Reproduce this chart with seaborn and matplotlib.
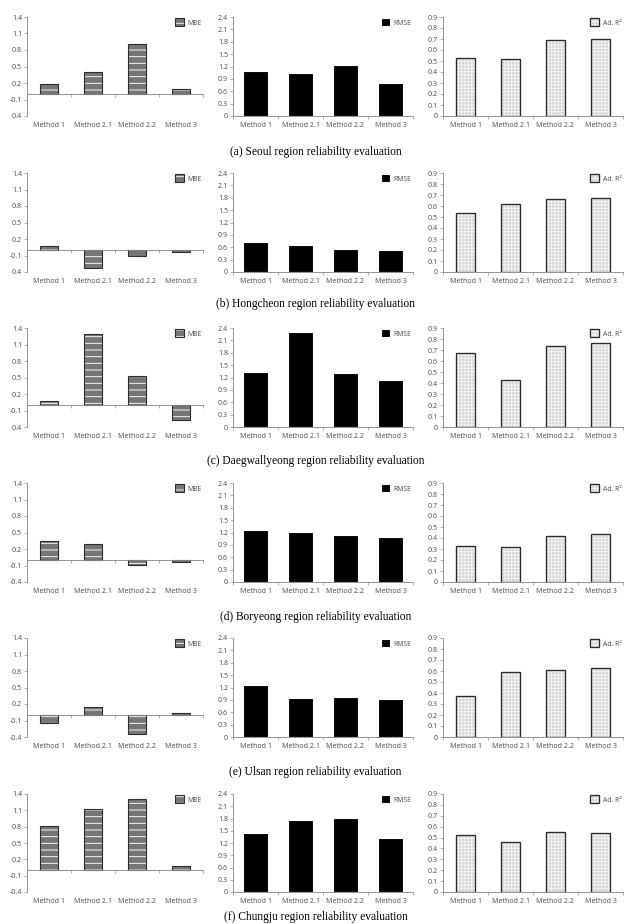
import matplotlib
matplotlib.use("Agg")
import matplotlib.pyplot as plt
import seaborn as sns
import pandas as pd

# ---------------- data ----------------
methods = ["Method 1", "Method 2.1", "Method 2.2", "Method 3"]

captions = [
    "(a) Seoul region reliability evaluation",
    "(b) Hongcheon region reliability evaluation",
    "(c) Daegwallyeong region reliability evaluation",
    "(d) Boryeong region reliability evaluation",
    "(e) Ulsan region reliability evaluation",
    "(f) Chungju region reliability evaluation",
]

mbe_a = [0.18, 0.40, 0.91, 0.09]
mbe_b = [0.08, -0.33, -0.11, -0.03]
mbe_c = [0.07, 1.29, 0.53, -0.28]
mbe_d = [0.35, 0.29, -0.085, -0.03]
mbe_e = [-0.15, 0.15, -0.35, 0.03]
mbe_f = [0.82, 1.13, 1.30, 0.07]

rmse_a = [1.08, 1.05, 1.23, 0.79]
rmse_b = [0.73, 0.65, 0.55, 0.53]
rmse_c = [1.33, 2.30, 1.32, 1.15]
rmse_d = [1.27, 1.22, 1.13, 1.08]
rmse_e = [1.25, 0.94, 0.98, 0.92]
rmse_f = [1.45, 1.76, 1.81, 1.32]

r2_a = [0.525, 0.52, 0.69, 0.70]
r2_b = [0.54, 0.62, 0.66, 0.67]
r2_c = [0.67, 0.43, 0.74, 0.76]
r2_d = [0.33, 0.32, 0.42, 0.44]
r2_e = [0.375, 0.59, 0.605, 0.63]
r2_f = [0.52, 0.455, 0.55, 0.54]

mbe_ticks = [1.4, 1.1, 0.8, 0.5, 0.2, -0.1, -0.4]
mbe_labels_abc = ["1.4", "1.1", "0.8", "0.5", "0.2", "-0.1", "0.4"]
mbe_labels_def = ["1.4", "1.1", "0.8", "0.5", "0.2", "-0.1", "-0.4"]
rmse_ticks = [0, 0.3, 0.6, 0.9, 1.2, 1.5, 1.8, 2.1, 2.4]
rmse_labels = ["0", "0.3", "0.6", "0.9", "1.2", "1.5", "1.8", "2.1", "2.4"]
r2_ticks = [0, 0.1, 0.2, 0.3, 0.4, 0.5, 0.6, 0.7, 0.8, 0.9]
r2_labels = ["0", "0.1", "0.2", "0.3", "0.4", "0.5", "0.6", "0.7", "0.8", "0.9"]

mbe_rows = [mbe_a, mbe_b, mbe_c, mbe_d, mbe_e, mbe_f]
rmse_rows = [rmse_a, rmse_b, rmse_c, rmse_d, rmse_e, rmse_f]
r2_rows = [r2_a, r2_b, r2_c, r2_d, r2_e, r2_f]

# ---------------- style ----------------
sns.set_theme(style="white")
plt.rcParams["font.family"] = ["Open Sans", "DejaVu Sans"]
plt.rcParams["hatch.linewidth"] = 0.8

W, H, DPI = 631, 924, 80
fig = plt.figure(figsize=(W / DPI, H / DPI), dpi=DPI)
fig.patch.set_facecolor("white")

AX_COL = "#8a8a8a"
TXT_COL = "#4a4a4a"
TICK_FS = 6.4

# pixel layout: (left, right) per column, (top, bottom) per row
cols = [(27, 203), (233, 413), (443, 623)]
rows = [(17, 116), (173, 272), (328, 427), (483, 582), (638, 737), (794, 892)]
cap_y = [152, 304, 461, 617, 772, 917]


def add_ax(c, r):
    l, rr = cols[c]
    t, b = rows[r]
    return fig.add_axes([l / W, 1 - b / H, (rr - l) / W, (b - t) / H])


def style_common(ax):
    for s in ["top", "right"]:
        ax.spines[s].set_visible(False)
    for s in ["left", "bottom"]:
        ax.spines[s].set_color(AX_COL)
        ax.spines[s].set_linewidth(0.8)
    ax.tick_params(axis="y", which="both", direction="out", length=2.5, width=0.6,
                   color=AX_COL, labelsize=TICK_FS, labelcolor=TXT_COL, pad=2, left=True)
    ax.set_xlabel("")
    ax.set_ylabel("")
    ax.set_xlim(-0.5, 3.5)


def legend(ax, label):
    lg = ax.legend(loc="upper right", frameon=False, fontsize=6.2, handlelength=1.35,
                   handleheight=1.35, handletextpad=0.5, borderaxespad=0.1, borderpad=0.1)
    for t in lg.get_texts():
        t.set_color(TXT_COL)


for i in range(6):
    # ---- MBE ----
    ax = add_ax(0, i)
    df = pd.DataFrame({"method": methods, "value": mbe_rows[i]})
    sns.barplot(data=df, x="method", y="value", ax=ax, color="#767676", width=0.42,
                saturation=1, label="MBE")
    for p in ax.patches:
        p.set_hatch("--")
        p.set_edgecolor("#2e2e2e")
        p.set_linewidth(1.0)
        p._hatch_color = (1, 1, 1, 1)
    style_common(ax)
    ax.set_ylim(-0.4, 1.4)
    ax.set_yticks(mbe_ticks, labels=mbe_labels_abc if i < 3 else mbe_labels_def)
    ax.spines["bottom"].set_position(("data", 0))
    ax.set_xticks([-0.5, 0.5, 1.5, 2.5, 3.5], labels=[])
    ax.tick_params(axis="x", direction="out", length=3, width=0.6, color=AX_COL, bottom=True)
    sec = ax.secondary_xaxis("bottom")
    sec.set_xticks(range(4), labels=methods)
    sec.spines["bottom"].set_visible(False)
    sec.tick_params(axis="x", length=0, pad=5, labelsize=TICK_FS, labelcolor=TXT_COL)
    legend(ax, "MBE")

    # ---- RMSE ----
    ax = add_ax(1, i)
    df = pd.DataFrame({"method": methods, "value": rmse_rows[i]})
    sns.barplot(data=df, x="method", y="value", ax=ax, color="black", width=0.54,
                saturation=1, label="RMSE")
    style_common(ax)
    ax.set_ylim(0, 2.4)
    ax.set_yticks(rmse_ticks, labels=rmse_labels)
    ax.set_xticks(range(4), labels=methods)
    ax.set_xticks([-0.5, 0.5, 1.5, 2.5, 3.5], minor=True)
    ax.tick_params(axis="x", which="major", length=0, pad=5, labelsize=TICK_FS,
                   labelcolor=TXT_COL)
    ax.tick_params(axis="x", which="minor", direction="out", length=3, width=0.6,
                   color=AX_COL, bottom=True)
    legend(ax, "RMSE")

    # ---- Ad. R2 ----
    ax = add_ax(2, i)
    df = pd.DataFrame({"method": methods, "value": r2_rows[i]})
    sns.barplot(data=df, x="method", y="value", ax=ax, color="#d6d6d6", width=0.42,
                saturation=1, label="Ad. R²")
    for p in ax.patches:
        p.set_hatch("++++")
        p.set_edgecolor("#2a2a2a")
        p.set_linewidth(1.2)
        p._hatch_color = (0.96, 0.96, 0.96, 1)
    style_common(ax)
    ax.set_ylim(0, 0.9)
    ax.set_yticks(r2_ticks, labels=r2_labels)
    ax.set_xticks(range(4), labels=methods)
    ax.set_xticks([-0.5, 0.5, 1.5, 2.5, 3.5], minor=True)
    ax.tick_params(axis="x", which="major", length=0, pad=5, labelsize=TICK_FS,
                   labelcolor=TXT_COL)
    ax.tick_params(axis="x", which="minor", direction="out", length=3, width=0.6,
                   color=AX_COL, bottom=True)
    legend(ax, "Ad. R²")

    fig.text(0.5, 1 - cap_y[i] / H, captions[i], ha="center", va="center",
             family="Liberation Serif", fontsize=10.4, color="black")

fig.savefig("out.png", dpi=DPI, facecolor="white")
